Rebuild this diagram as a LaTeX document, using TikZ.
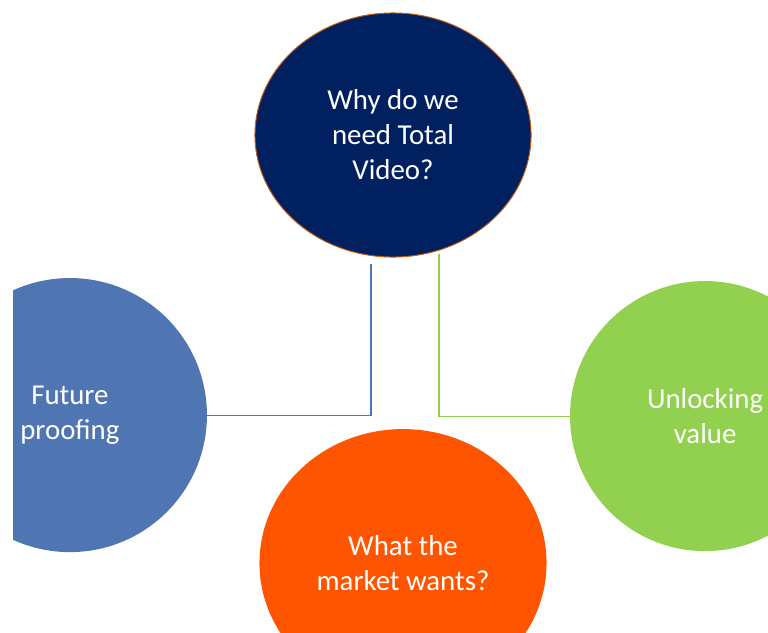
\documentclass[tikz,border=0pt]{standalone}
\usepackage{fontspec}
\setmainfont{Carlito}
\usetikzlibrary{positioning, shapes.geometric}
\definecolor{navy}{HTML}{002060}
\definecolor{steel}{HTML}{4F76B3}
\definecolor{lime}{HTML}{92D050}
\definecolor{tangerine}{HTML}{FF5400}
\definecolor{rim}{HTML}{C55A11}

\begin{document}
\begin{tikzpicture}[x=0.025cm,y=-0.025cm,on grid,
      every node/.style={font=\fontsize{20.5}{24.9}\selectfont,text=white,align=center},
      topic/.style={ellipse,inner sep=0pt,minimum width=6.85cm,minimum height=6.85cm},
      link/.style={line width=0.8pt}]
  \useasboundingbox (0,0) rectangle (768,632);
  \clip (13,0) rectangle (768,632);
  \node[topic,fill=navy,draw=rim,line width=0.7pt,minimum width=6.9cm,minimum height=6.1cm]
      (why) at (393,135) {Why do we\\need Total\\Video?};
  \node[topic,fill=steel] (future) [below left=7cm and 8.075cm of why] {Future\\proofing};
  \node[topic,fill=tangerine,minimum width=7.175cm,minimum height=6.7cm]
      (market) [below right=10.7cm and 0.25cm of why] {What the\\market wants?};
  \node[topic,fill=lime,minimum width=6.75cm,minimum height=6.75cm]
      (unlock) [below right=7.025cm and 7.8cm of why] {Unlocking\\value};
  \coordinate (bluetop) at (371,264);
  \coordinate (greentop) at (439,254);
  \draw[link,steel] (bluetop) |- (future.east);
  \draw[link,lime] (greentop) |- (unlock.west);
\end{tikzpicture}
\end{document}
